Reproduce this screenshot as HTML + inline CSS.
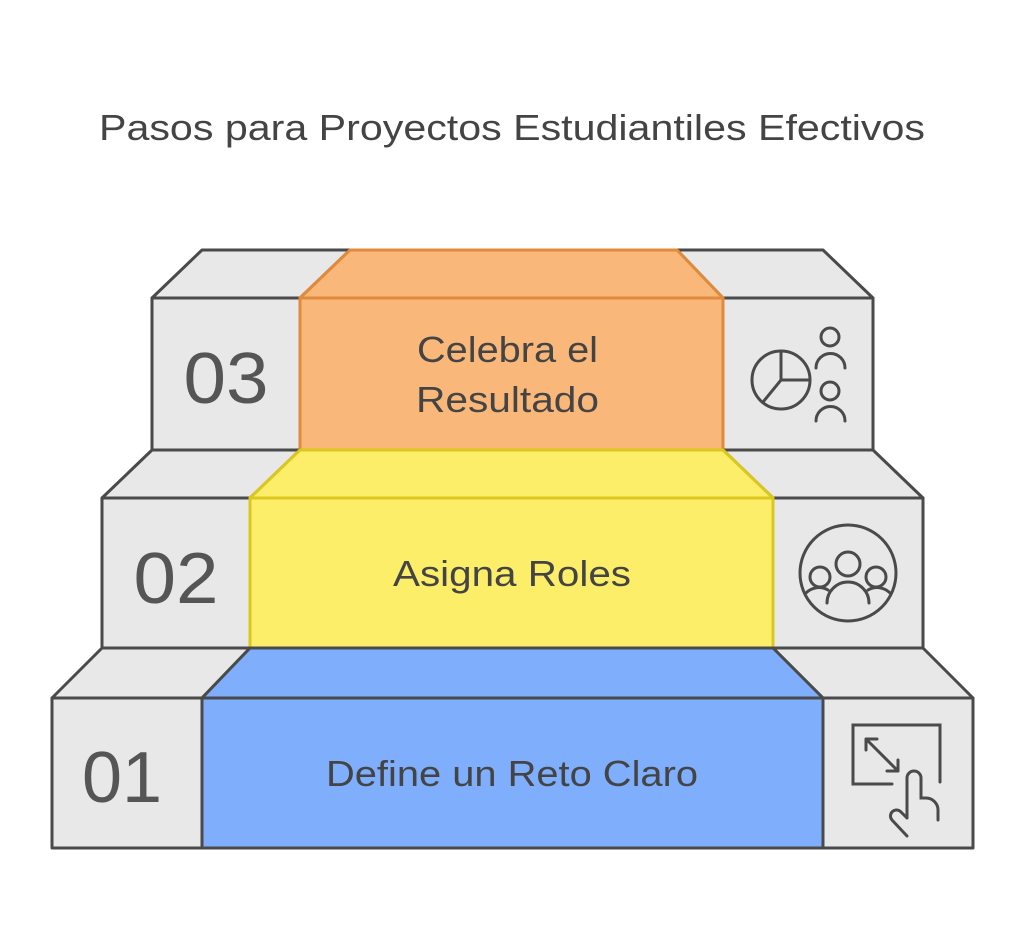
<!DOCTYPE html>
<html><head><style>body{margin:0;background:#fff}svg{display:block}</style></head><body>
<svg width="1024" height="949" viewBox="0 0 1024 949" xmlns="http://www.w3.org/2000/svg" font-family="Liberation Sans, sans-serif">
<rect width="1024" height="949" fill="#fff"/>
<text x="99" y="140" font-size="36" fill="#444" textLength="826" lengthAdjust="spacingAndGlyphs">Pasos para Proyectos Estudiantiles Efectivos</text>
<g stroke-width="3" stroke-linejoin="round">
<g fill="#e8e8e8" stroke="#4a4a4a">
<polygon points="152,298 202,250 350,250 300,298"/>
<polygon points="723,298 677,250 823,250 873,298"/>
<rect x="152" y="298" width="148" height="152"/>
<rect x="723" y="298" width="150" height="152"/>
</g>
<polygon points="300,298 350,250 677,250 723,298" fill="#f9b77a" stroke="#e08a3c"/>
<rect x="300" y="298" width="423" height="152" fill="#f9b77a" stroke="#e08a3c"/>
<g fill="#e8e8e8" stroke="#4a4a4a">
<polygon points="102,498 152,450 300,450 250,498"/>
<polygon points="773,498 723,450 873,450 923,498"/>
<rect x="102" y="498" width="148" height="150"/>
<rect x="773" y="498" width="150" height="150"/>
</g>
<polygon points="250,498 300,450 723,450 773,498" fill="#fdee6a" stroke="#dcc81c"/>
<rect x="250" y="498" width="523" height="150" fill="#fdee6a" stroke="#dcc81c"/>
<g fill="#e8e8e8" stroke="#4a4a4a">
<polygon points="52,698 102,648 250,648 202,698"/>
<polygon points="823,698 773,648 923,648 973,698"/>
<rect x="52" y="698" width="150" height="150"/>
<rect x="823" y="698" width="150" height="150"/>
</g>
<polygon points="202,698 250,648 773,648 823,698" fill="#7eaefc" stroke="#4a4a4a"/>
<rect x="202" y="698" width="621" height="150" fill="#7eaefc" stroke="#4a4a4a"/>
</g>
<g font-size="72" fill="#555" text-anchor="middle">
<text x="226" y="403" textLength="85" lengthAdjust="spacingAndGlyphs">03</text>
<text x="176" y="603" textLength="85" lengthAdjust="spacingAndGlyphs">02</text>
<text x="122" y="802" textLength="80" lengthAdjust="spacingAndGlyphs">01</text>
</g>
<g font-size="36" fill="#444">
<text x="417" y="362" textLength="181" lengthAdjust="spacingAndGlyphs">Celebra el</text>
<text x="416" y="412" textLength="183" lengthAdjust="spacingAndGlyphs">Resultado</text>
<text x="393" y="586" textLength="238" lengthAdjust="spacingAndGlyphs">Asigna Roles</text>
<text x="326" y="786" textLength="372" lengthAdjust="spacingAndGlyphs">Define un Reto Claro</text>
</g>
<g fill="none" stroke="#4a4a4a" stroke-width="3" stroke-linecap="round">
<circle cx="781" cy="380" r="29"/><path d="M781 351V380H810M781 380L763 402"/>
<circle cx="830" cy="337" r="9"/><path d="M816 368a14 14 0 0 1 29 0"/>
<circle cx="830" cy="391" r="9"/><path d="M816 421a14 14 0 0 1 29 0"/>
<circle cx="848" cy="573" r="48"/>
<circle cx="848" cy="564" r="12"/><circle cx="820" cy="577" r="10"/><circle cx="876" cy="577" r="10"/>
<path d="M827 603a21 21 0 0 1 42 0M806 593a18 18 0 0 1 22 -3M890 593a18 18 0 0 0 -22 -3"/>
<path d="M892 784H853V725H940V782"/>
<path d="M866 739L898 771M866 739V750M866 739H877M898 771V760M898 771H887"/>
<path d="M907 818V778a7 7 0 0 1 14 0V798h5a12 12 0 0 1 12 12V820M907 818l-6 -6a6 6 0 0 0 -9 8l15 16"/>
</g>
</svg>
</body></html>
